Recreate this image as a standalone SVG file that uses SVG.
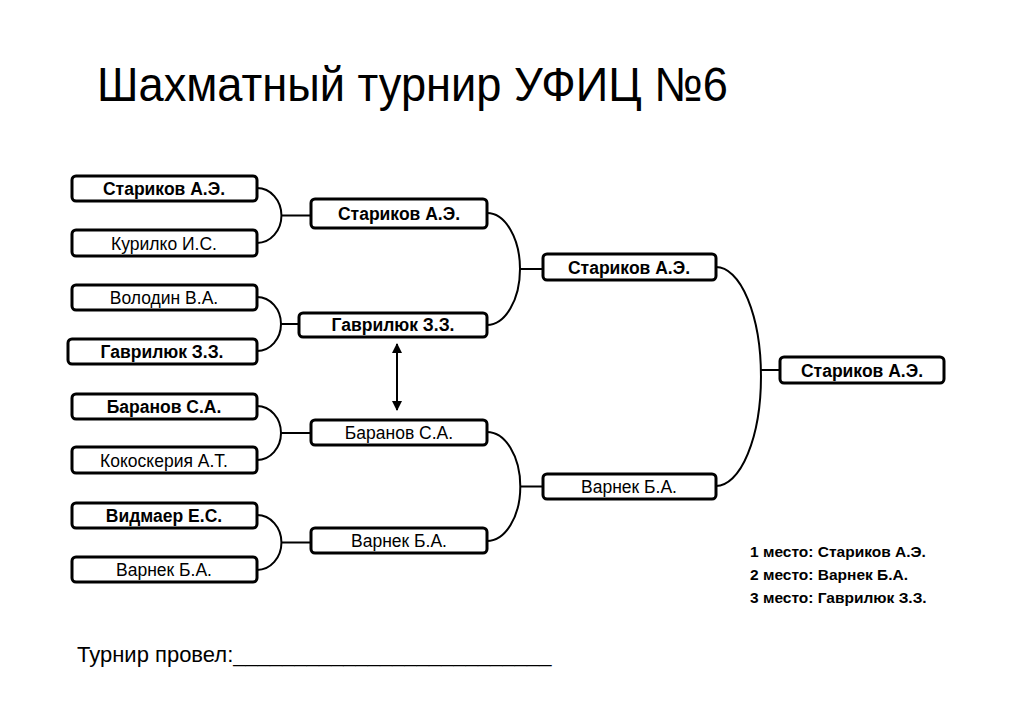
<svg xmlns="http://www.w3.org/2000/svg" width="1024" height="708" viewBox="0 0 1024 708">
<style>
.box{fill:#fff;stroke:#000;stroke-width:3}
.t{font-family:"Liberation Sans",Arial,sans-serif;font-size:17.5px;text-anchor:middle;fill:#000}
.b{font-weight:bold}
.con{fill:none;stroke:#000;stroke-width:2}
.title{font-family:"Liberation Sans",Arial,sans-serif;font-size:48px;fill:#000}
.leg{font-family:"Liberation Sans",Arial,sans-serif;font-size:15.5px;font-weight:bold;fill:#000}
.foot{font-family:"Liberation Sans",Arial,sans-serif;font-size:22px;fill:#000}
</style>
<defs>
<marker id="ah" viewBox="0 0 10 10" refX="9" refY="5" markerWidth="5" markerHeight="5" orient="auto-start-reverse">
<path d="M0,0 L10,5 L0,10 z" fill="#000"/>
</marker>
</defs>
<rect width="1024" height="708" fill="#fff"/>
<text class="title" x="97" y="101" textLength="631" lengthAdjust="spacingAndGlyphs">Шахматный турнир УФИЦ №6</text>

<g id="connectors">
<path class="con" d="M257,188 A24 27 0 0 1 257,243 M281,215.5 H311"/>
<path class="con" d="M257,297 A24 27 0 0 1 257,351 M281,324 H299"/>
<path class="con" d="M257,406 A24 27 0 0 1 257,460 M281,433 H311"/>
<path class="con" d="M257,515 A24 27 0 0 1 257,570 M281,542.5 H311"/>
<path class="con" d="M487,213 A33 56 0 0 1 487,325 M520,269 H543"/>
<path class="con" d="M487,432 A33 54 0 0 1 487,541 M520,486.5 H543"/>
<path class="con" d="M716,267 A45 109.5 0 0 1 716,486 M761,370 H780"/>
<line class="con" x1="397" y1="344" x2="397" y2="410" marker-start="url(#ah)" marker-end="url(#ah)"/>
</g>

<g id="r1-1"><rect class="box" x="72" y="176" width="185" height="25" rx="4"/><text class="t b" x="164" y="195">Стариков А.Э.</text></g>
<g id="r1-2"><rect class="box" x="72" y="230" width="185" height="26" rx="4"/><text class="t" x="164" y="250">Курилко И.С.</text></g>
<g id="r1-3"><rect class="box" x="72" y="285" width="185" height="25" rx="4"/><text class="t" x="164" y="304">Володин В.А.</text></g>
<g id="r1-4"><rect class="box" x="68" y="339" width="189" height="25" rx="4"/><text class="t b" x="162" y="358">Гаврилюк З.З.</text></g>
<g id="r1-5"><rect class="box" x="72" y="394" width="185" height="25" rx="4"/><text class="t b" x="164" y="413">Баранов С.А.</text></g>
<g id="r1-6"><rect class="box" x="72" y="447" width="185" height="26" rx="4"/><text class="t" x="164" y="467">Кокоскерия А.Т.</text></g>
<g id="r1-7"><rect class="box" x="72" y="503" width="185" height="25" rx="4"/><text class="t b" x="164" y="522">Видмаер Е.С.</text></g>
<g id="r1-8"><rect class="box" x="72" y="557" width="185" height="25" rx="4"/><text class="t" x="164" y="576">Варнек Б.А.</text></g>

<g id="r2-1"><rect class="box" x="311" y="199" width="176" height="29" rx="4"/><text class="t b" x="399" y="220">Стариков А.Э.</text></g>
<g id="r2-2"><rect class="box" x="299" y="313" width="188" height="24" rx="4"/><text class="t b" x="393" y="331">Гаврилюк З.З.</text></g>
<g id="r2-3"><rect class="box" x="311" y="420" width="176" height="25" rx="4"/><text class="t" x="399" y="439">Баранов С.А.</text></g>
<g id="r2-4"><rect class="box" x="311" y="528" width="176" height="25" rx="4"/><text class="t" x="399" y="547">Варнек Б.А.</text></g>

<g id="r3-1"><rect class="box" x="543" y="254" width="173" height="26" rx="4"/><text class="t b" x="629" y="274">Стариков А.Э.</text></g>
<g id="r3-2"><rect class="box" x="543" y="474" width="173" height="25" rx="4"/><text class="t" x="629" y="493">Варнек Б.А.</text></g>

<g id="final"><rect class="box" x="780" y="357" width="164" height="26" rx="4"/><text class="t b" x="862" y="377">Стариков А.Э.</text></g>

<g id="legend">
<text class="leg" x="750" y="557">1 место: Стариков А.Э.</text>
<text class="leg" x="750" y="580">2 место: Варнек Б.А.</text>
<text class="leg" x="750" y="603">3 место: Гаврилюк З.З.</text>
</g>
<text class="foot" x="77" y="662">Турнир провел:__________________________</text>
</svg>
